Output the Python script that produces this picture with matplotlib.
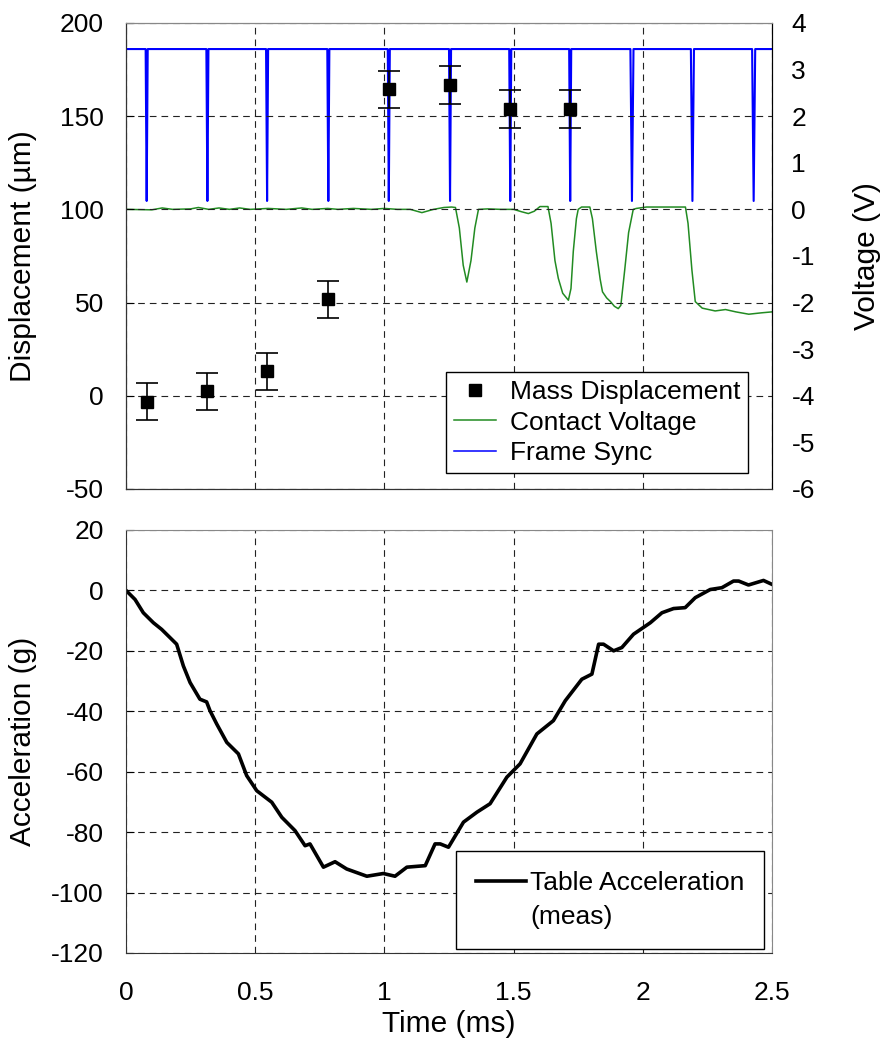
import matplotlib.pyplot as plt
from matplotlib.lines import Line2D

plt.rcParams['font.family'] = ['Liberation Sans', 'DejaVu Sans']
plt.rcParams['font.size'] = 19
plt.rcParams['axes.unicode_minus'] = False

# Зміщення маси (кадри камери)
mass_t = [0.080, 0.315, 0.546, 0.783, 1.017, 1.254, 1.487, 1.719]
mass_disp = [-3.1, 2.3, 13.1, 51.8, 164.4, 166.7, 153.8, 153.8]
mass_err = [10, 10, 10, 10, 10, 10, 10, 10]

# Контактна напруга (V)
contact_t = [0.00, 0.10, 0.14, 0.18, 0.25, 0.28, 0.32, 0.36, 0.40, 0.44, 0.48, 0.55,
             0.62, 0.68, 0.72, 0.78, 0.82, 0.88, 0.95, 1.00, 1.05, 1.10, 1.145, 1.19,
             1.23, 1.26, 1.275, 1.29, 1.305, 1.319, 1.335, 1.35, 1.364, 1.40, 1.45,
             1.50, 1.53, 1.557, 1.58, 1.602, 1.633, 1.645, 1.66, 1.673, 1.69, 1.712,
             1.722, 1.731, 1.743, 1.75, 1.763, 1.795, 1.805, 1.82, 1.835, 1.844, 1.86,
             1.875, 1.89, 1.905, 1.915, 1.93, 1.945, 1.963, 1.975, 2.014, 2.08, 2.13,
             2.165, 2.175, 2.19, 2.203, 2.23, 2.28, 2.32, 2.36, 2.41, 2.46, 2.50]
contact_v = [0.0, -0.01, 0.03, 0.0, 0.01, 0.04, 0.0, 0.03, 0.0, 0.03, 0.0, 0.02,
             0.0, 0.03, 0.0, 0.02, 0.0, 0.02, 0.0, 0.02, 0.0, 0.0, -0.07, 0.0,
             0.04, 0.05, 0.04, -0.4, -1.2, -1.56, -1.1, -0.4, 0.0, 0.01, 0.0,
             0.0, -0.05, -0.09, -0.04, 0.06, 0.06, -0.3, -1.1, -1.48, -1.8, -1.95,
             -1.7, -0.9, -0.2, 0.0, 0.05, 0.05, -0.2, -0.9, -1.5, -1.77, -1.9,
             -1.98, -2.08, -2.13, -2.06, -1.3, -0.5, 0.0, 0.02, 0.05, 0.05, 0.05,
             0.05, -0.3, -1.3, -1.98, -2.12, -2.18, -2.15, -2.2, -2.25, -2.22, -2.2]

# Синхроімпульси кадрів (V)
sync_t = [0.0, 0.076, 0.080, 0.084, 0.311, 0.315, 0.319, 0.542, 0.546, 0.550,
          0.779, 0.783, 0.787, 1.013, 1.017, 1.021, 1.250, 1.254, 1.258,
          1.483, 1.487, 1.491, 1.715, 1.719, 1.723, 1.952, 1.958, 1.964,
          2.186, 2.192, 2.198, 2.423, 2.429, 2.435, 2.50]
sync_v = [3.44, 3.44, 0.18, 3.44, 3.44, 0.18, 3.44, 3.44, 0.18, 3.44,
          3.44, 0.18, 3.44, 3.44, 0.18, 3.44, 3.44, 0.18, 3.44,
          3.44, 0.18, 3.44, 3.44, 0.18, 3.44, 3.44, 0.18, 3.44,
          3.44, 0.18, 3.44, 3.44, 0.18, 3.44, 3.44]

# Прискорення столу (g)
acc_t = [0.0, 0.035, 0.067, 0.106, 0.138, 0.170, 0.196, 0.222, 0.248, 0.286,
         0.312, 0.325, 0.351, 0.390, 0.435, 0.467, 0.506, 0.564, 0.603, 0.654,
         0.693, 0.712, 0.764, 0.809, 0.854, 0.932, 0.996, 1.041, 1.087, 1.158,
         1.196, 1.216, 1.248, 1.306, 1.358, 1.409, 1.474, 1.525, 1.590, 1.654,
         1.700, 1.764, 1.803, 1.829, 1.848, 1.887, 1.919, 1.964, 2.029, 2.074,
         2.119, 2.164, 2.203, 2.261, 2.306, 2.351, 2.371, 2.409, 2.467, 2.50]
acc_g = [0.0, -3.0, -7.4, -10.7, -12.9, -15.6, -17.8, -25.0, -30.5, -36.0,
         -36.9, -39.8, -44.2, -50.3, -54.1, -61.3, -66.3, -70.1, -75.1, -79.5,
         -84.5, -83.9, -91.6, -89.8, -92.2, -94.6, -93.7, -94.6, -91.6, -91.1,
         -83.9, -83.9, -85.0, -76.7, -73.4, -70.6, -61.8, -57.4, -47.5, -43.1,
         -36.5, -29.4, -27.7, -17.8, -17.8, -20.0, -18.9, -14.5, -10.7, -7.4,
         -6.0, -5.7, -2.4, 0.3, 0.9, 3.1, 3.1, 1.8, 3.3, 2.0]

fig = plt.figure(figsize=(8.83, 10.39), dpi=100)
ax1 = fig.add_axes([0.1427, 0.5294, 0.7316, 0.4485])
ax2 = ax1.twinx()
ax3 = fig.add_axes([0.1427, 0.0828, 0.7316, 0.4071])

grid_kw = dict(color='#222222', linestyle=(0, (6, 4.5)), linewidth=0.8)
label_size = 21.5

# Верхній графік
ax2.plot(sync_t, sync_v, color='#0000ff', linewidth=1.5)
ax2.plot(contact_t, contact_v, color='#228b22', linewidth=1.1)
ax2.set_ylim(-6, 4)
ax2.set_yticks(range(-6, 5))
ax2.tick_params(axis='y', length=0, pad=14)
ax2.set_ylabel('Voltage (V)', fontsize=label_size)
ax2.yaxis.set_label_coords(1.125, 0.5)

ax1.set_zorder(ax2.get_zorder() + 1)
ax1.patch.set_visible(False)
ax1.errorbar(mass_t, mass_disp, yerr=mass_err, fmt='none', ecolor='black',
             elinewidth=1.2, capsize=8, capthick=1.2)
ax1.plot(mass_t, mass_disp, 's', color='black', markersize=8)
ax1.set_xlim(0, 2.5)
ax1.set_ylim(-50, 200)
ax1.set_yticks(range(-50, 201, 50))
ax1.set_xticks([0, 0.5, 1, 1.5, 2, 2.5])
ax1.tick_params(axis='x', length=0, labelbottom=False)
ax1.tick_params(axis='y', direction='in', length=6, pad=16)
ax1.grid(True, **grid_kw)
ax1.set_ylabel('Displacement (µm)', fontsize=label_size)
ax1.yaxis.set_label_coords(-0.138, 0.5)

handles = [Line2D([], [], marker='s', color='black', linestyle='none', markersize=8),
           Line2D([], [], color='#228b22', linewidth=1.1),
           Line2D([], [], color='#0000ff', linewidth=1.1)]
leg = ax1.legend(handles, ['Mass Displacement', 'Contact Voltage', 'Frame Sync'],
                 loc='lower right', bbox_to_anchor=(0.963, 0.034), borderaxespad=0,
                 fancybox=False, edgecolor='black', framealpha=1, handlelength=1.6,
                 labelspacing=0.25, borderpad=0.3, handletextpad=0.5, fontsize=19)
leg.get_frame().set_linewidth(1.0)

# Нижній графік
ax3.plot(acc_t, acc_g, color='black', linewidth=2.6)
ax3.set_xlim(0, 2.5)
ax3.set_ylim(-120, 20)
ax3.set_yticks(range(-120, 21, 20))
ax3.set_xticks([0, 0.5, 1, 1.5, 2, 2.5])
ax3.set_xticklabels(['0', '0.5', '1', '1.5', '2', '2.5'])
ax3.tick_params(axis='x', length=0, pad=20)
ax3.tick_params(axis='y', direction='in', length=6, pad=16)
ax3.grid(True, **grid_kw)
ax3.set_ylabel('Acceleration (g)', fontsize=label_size)
ax3.yaxis.set_label_coords(-0.138, 0.5)
ax3.set_xlabel('Time (ms)', fontsize=label_size)
ax3.xaxis.set_label_coords(0.5, -0.135)

acc_handles = [Line2D([], [], color='black', linewidth=2.6),
               Line2D([], [], color='none')]
leg2 = ax3.legend(acc_handles, ['Table Acceleration', '(meas)'],
                  loc='lower right', bbox_to_anchor=(0.988, 0.009), borderaxespad=0,
                  fancybox=False, edgecolor='black', framealpha=1, handlelength=1.9,
                  labelspacing=0.4, borderpad=0.75, handletextpad=0.15, fontsize=19)
leg2.get_frame().set_linewidth(1.0)

for ax in (ax1, ax3):
    ax.spines['top'].set_color('#888888')
    ax.spines['right'].set_color('#888888')
    ax.spines['left'].set_color('#333333')
    ax.spines['bottom'].set_color('#333333')
ax1.spines['right'].set_color('black')
ax2.spines['right'].set_color('black')
ax2.spines['top'].set_color('#888888')

plt.savefig('out.png', dpi=100)
